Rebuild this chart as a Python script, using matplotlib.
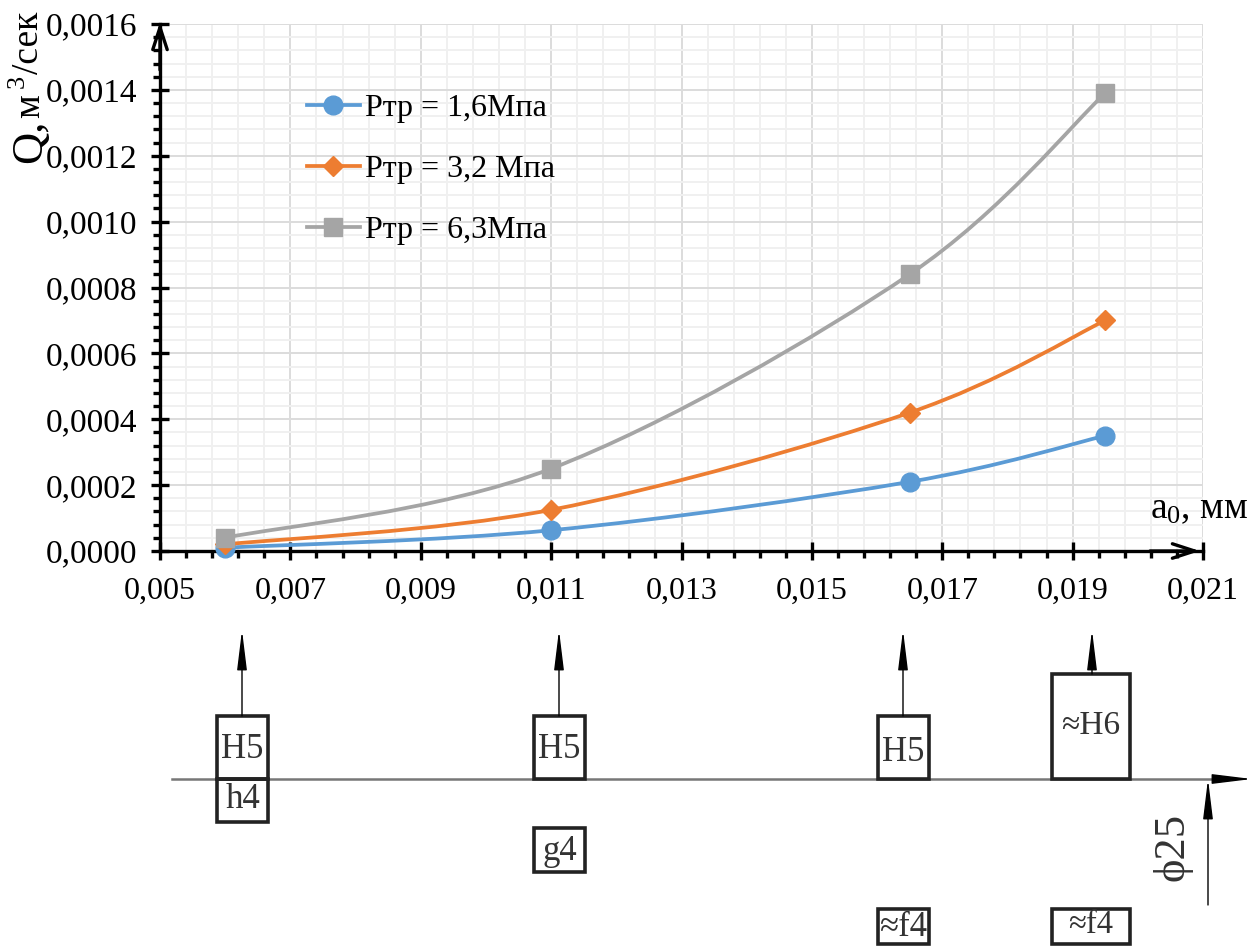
import matplotlib
matplotlib.use('Agg')
import matplotlib.pyplot as plt
from matplotlib.lines import Line2D
from matplotlib.patches import PathPatch, Rectangle
from matplotlib.path import Path

plt.rcParams['font.family'] = ['Liberation Serif', 'DejaVu Serif']
plt.rcParams['mathtext.fontset'] = 'custom'
plt.rcParams['mathtext.rm'] = 'Liberation Serif'
plt.rcParams['mathtext.it'] = 'Liberation Serif'

# data
a0 = [0.006, 0.011, 0.0165, 0.0195]
q_16 = [0.00001, 0.000063, 0.00021, 0.00035]
q_32 = [0.00002, 0.000125, 0.00042, 0.0007]
q_63 = [0.00004, 0.00025, 0.00084, 0.00139]

labels = ['Ртр = 1,6Мпа', 'Ртр = 3,2 Мпа', 'Ртр = 6,3Мпа']
colors = ['#5B9BD5', '#ED7D31', '#A5A5A5']
markers = ['o', 'D', 's']
marker_sizes = [13.5, 10, 13]

x_ticks = [0.005, 0.007, 0.009, 0.011, 0.013, 0.015, 0.017, 0.019, 0.021]
x_labels = ['0,005', '0,007', '0,009', '0,011', '0,013', '0,015', '0,017', '0,019', '0,021']
y_ticks = [0, 0.0002, 0.0004, 0.0006, 0.0008, 0.0010, 0.0012, 0.0014, 0.0016]
y_labels = ['0,0000', '0,0002', '0,0004', '0,0006', '0,0008', '0,0010', '0,0012', '0,0014', '0,0016']
x_minor = [0.005 + i * 0.0004 for i in range(41)]
y_minor = [i * 0.00004 for i in range(41)]

# tolerance scheme below the chart, in picture pixels: left, top, right, bottom
box_texts = ['H5', 'h4', 'H5', 'g4', 'H5', '≈f4', '≈H6', '≈f4']
box_rects = [(217, 716, 268, 779), (217, 779, 268, 822), (534, 716, 585, 779), (534, 828, 585, 872),
             (878, 716, 929, 779), (878, 909, 929, 944), (1052, 674, 1130, 779), (1052, 909, 1130, 944)]
box_sizes = [25, 25, 25, 25, 25, 25, 24, 23.5]
box_text_y = [749, 799, 749, 851, 752, 927, 726, 925]
arrow_xy = [(242, 716), (559, 716), (903, 716), (1092, 674)]
arrow_top = 630

W, H = 1258, 946
fig = plt.figure(figsize=(W / 100, H / 100), dpi=100)
ax = fig.add_axes([160 / W, 1 - 551 / H, (1203 - 160) / W, (551 - 24) / H])
ax.set_xlim(0.005, 0.021)
ax.set_ylim(0, 0.0016)


def smooth_path(xs, ys):
    # bezier control points like a spreadsheet "smoothed line"
    verts = [(xs[0], ys[0])]
    codes = [Path.MOVETO]
    n = len(xs)
    for i in range(n - 1):
        x0, y0 = (xs[i - 1], ys[i - 1]) if i > 0 else (xs[i], ys[i])
        x3, y3 = (xs[i + 2], ys[i + 2]) if i + 2 < n else (xs[i + 1], ys[i + 1])
        verts.append((xs[i] + (xs[i + 1] - x0) / 6, ys[i] + (ys[i + 1] - y0) / 6))
        verts.append((xs[i + 1] - (x3 - xs[i]) / 6, ys[i + 1] - (y3 - ys[i]) / 6))
        verts.append((xs[i + 1], ys[i + 1]))
        codes += [Path.CURVE4] * 3
    return Path(verts, codes)


handles = []
for q, lab, col, mk, ms in zip([q_16, q_32, q_63], labels, colors, markers, marker_sizes):
    ax.add_patch(PathPatch(smooth_path(a0, q), fill=False, edgecolor=col, linewidth=2.7, zorder=5, clip_on=False))
    ax.plot(a0, q, linestyle='none', marker=mk, color=col, markersize=ms, zorder=6, clip_on=False)
    handles.append(Line2D([0], [0], color=col, linewidth=2.7, marker=mk, markersize=ms, label=lab))

ax.set_xticks(x_ticks)
ax.set_xticklabels(x_labels)
ax.set_yticks(y_ticks)
ax.set_yticklabels(y_labels)
ax.set_xticks(x_minor, minor=True)
ax.set_yticks(y_minor, minor=True)
ax.grid(which='minor', color='#f0f0f0', linewidth=1.4)
ax.grid(which='major', color='#dcdcdc', linewidth=1.4)
ax.set_axisbelow(True)
ax.tick_params(which='major', direction='inout', length=13, width=2.4, color='black')
ax.tick_params(axis='x', which='major', pad=12, labelsize=23)
ax.tick_params(axis='y', which='major', pad=10, labelsize=24)
ax.tick_params(which='minor', direction='out', length=5, width=2.4, color='black')
for side in ['top', 'right']:
    ax.spines[side].set_visible(False)
for side in ['left', 'bottom']:
    ax.spines[side].set_linewidth(2.4)

ax.legend(handles=handles, loc='upper left', bbox_to_anchor=(307 / W, 1 - 94 / H),
          bbox_transform=fig.transFigure, frameon=False, fontsize=23, handlelength=1.65,
          handletextpad=0.16, labelspacing=0.98, borderpad=0, borderaxespad=0)

# overlay in picture pixels for the hand drawn parts
ov = fig.add_axes([0, 0, 1, 1], facecolor='none')
ov.set_xlim(0, W)
ov.set_ylim(H, 0)
ov.axis('off')

axis_arrow = dict(arrowstyle='->,head_length=1.6,head_width=0.52', color='black', linewidth=2.4, shrinkA=0, shrinkB=0)
ov.annotate('', xy=(160, 22), xytext=(160, 70), arrowprops=axis_arrow)
ov.annotate('', xy=(1200, 551), xytext=(1150, 551), arrowprops=axis_arrow)

ov.text(30, 163, 'Q,', rotation=90, fontsize=32, ha='center', va='bottom')
ov.text(30, 118, 'м', rotation=90, fontsize=27, ha='center', va='bottom')
ov.text(18, 88, '3', rotation=90, fontsize=19, ha='center', va='bottom')
ov.text(29, 74, '/сек', rotation=90, fontsize=27, ha='center', va='bottom')
ov.text(1150, 518, 'a$_{0}$, мм', fontsize=27, ha='left', va='baseline')

gray = '#333333'
thin_arrow = dict(arrowstyle='-|>,head_length=2.45,head_width=0.3', color='black', linewidth=1,
                  shrinkA=0, shrinkB=0)
ov.plot([172, 1225], [779, 779], color='#777777', linewidth=1.8, zorder=1)
ov.annotate('', xy=(1252, 779), xytext=(1215, 779), arrowprops=thin_arrow)
for (x1, y1, x2, y2), txt, fs, ty in zip(box_rects, box_texts, box_sizes, box_text_y):
    ov.add_patch(Rectangle((x1, y1), x2 - x1, y2 - y1, fill=False, edgecolor='#222222', linewidth=2.6, zorder=3))
    ov.text((x1 + x2) / 2, ty, txt, fontsize=fs, color=gray, ha='center', va='center', zorder=4)
for x, y in arrow_xy:
    ov.annotate('', xy=(x, arrow_top), xytext=(x, y), arrowprops=thin_arrow)
ov.annotate('', xy=(1208, 779), xytext=(1208, 905), arrowprops=thin_arrow)
ov.text(1172, 847, 'ϕ25', rotation=90, fontsize=32, color=gray, ha='center', va='center')

fig.savefig('out.png', dpi=100)
